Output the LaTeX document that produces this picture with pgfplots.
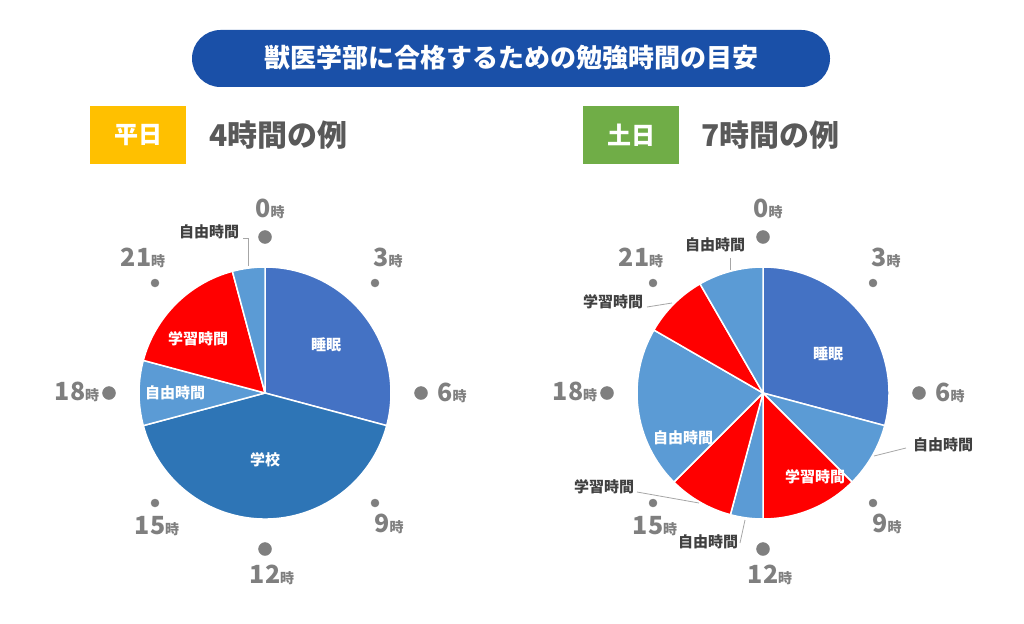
\documentclass[border=0pt]{standalone}
\usepackage{pgfplots}
\pgfplotsset{compat=1.18}
\usepackage{fontspec}
\setmainfont{Noto Sans CJK JP}
\definecolor{csleep}{HTML}{4472C4}
\definecolor{cschool}{HTML}{2E75B6}
\definecolor{cfree}{HTML}{5B9BD5}
\definecolor{cstudy}{HTML}{FF0000}
\definecolor{ctitle}{HTML}{1A50A8}
\definecolor{cyellow}{HTML}{FFC000}
\definecolor{cgreen}{HTML}{70AD47}
\definecolor{chead}{HTML}{595959}
\definecolor{cout}{HTML}{404040}
\definecolor{cclock}{HTML}{7F7F7F}
\definecolor{cleader}{HTML}{A6A6A6}
% slice: center x, center y, start hour, end hour, colour
\newcommand\slice[5]{%
  \fill[#5, draw=white, line width=1.5pt, line join=round] (axis cs:#1,#2) -- ++({90-15*#3}:126pt)
    arc[start angle={90-15*#3}, end angle={90-15*#4}, radius=126pt] -- cycle;}
\newcommand\clk[1]{{\fontsize{25}{25}\selectfont\bfseries #1}{\fontsize{14}{14}\selectfont\bfseries 時}}
\newcommand\lab{\fontsize{15}{15}\selectfont\bfseries}
\begin{document}
\begin{tikzpicture}
\begin{axis}[hide axis, scale only axis, width=1024pt, height=623pt,
  xmin=0, xmax=1024, ymin=0, ymax=623, y dir=reverse, clip=false]
\path (axis cs:0,0) rectangle (axis cs:1024,623);
% title
\fill[ctitle, rounded corners=28.5pt] (axis cs:192,30) rectangle (axis cs:830,87);
\node[white, font=\fontsize{26}{26}\selectfont\bfseries] at (axis cs:511,58) {獣医学部に合格するための勉強時間の目安};
% badges
\fill[cyellow] (axis cs:90,106) rectangle (axis cs:186,164);
\node[white, font=\fontsize{24}{24}\selectfont\bfseries] at (axis cs:138,135) {平日};
\node[chead, anchor=west, font=\fontsize{30}{30}\selectfont\bfseries] at (axis cs:206,135) {4時間の例};
\fill[cgreen] (axis cs:583,106) rectangle (axis cs:679,164);
\node[white, font=\fontsize{24}{24}\selectfont\bfseries] at (axis cs:631,135) {土日};
\node[chead, anchor=west, font=\fontsize{30}{30}\selectfont\bfseries] at (axis cs:698,135) {7時間の例};
% left pie (weekday): hours
\slice{265}{393}{0}{7}{csleep}
\slice{265}{393}{7}{17}{cschool}
\slice{265}{393}{17}{19}{cfree}
\slice{265}{393}{19}{23}{cstudy}
\slice{265}{393}{23}{24}{cfree}
% right pie (weekend): hours
\slice{763}{393}{0}{7}{csleep}
\slice{763}{393}{7}{9}{cfree}
\slice{763}{393}{9}{12}{cstudy}
\slice{763}{393}{12}{13}{cfree}
\slice{763}{393}{13}{15}{cstudy}
\slice{763}{393}{15}{20}{cfree}
\slice{763}{393}{20}{22}{cstudy}
\slice{763}{393}{22}{24}{cfree}
% clock dots
\addplot[only marks, mark=*, mark size=6.5pt, color=cclock, mark options={draw=none}]
  coordinates {(265,237) (421,393) (265,549) (109,393) (763,237) (919,393) (763,549) (607,393)};
\addplot[only marks, mark=*, mark size=4pt, color=cclock, mark options={draw=none}]
  coordinates {(375,283) (375,503) (155,503) (155,283) (873,283) (873,503) (653,503) (653,283)};
% clock labels
\begin{scope}[every node/.style={cclock}]
\node at (axis cs:270,209) {\clk{0}};
\node at (axis cs:388,258) {\clk{3}};
\node at (axis cs:452,393) {\clk{6}};
\node at (axis cs:389,524) {\clk{9}};
\node at (axis cs:272,575) {\clk{12}};
\node at (axis cs:157,526) {\clk{15}};
\node at (axis cs:77,392) {\clk{18}};
\node at (axis cs:143,258) {\clk{21}};
\node at (axis cs:768,209) {\clk{0}};
\node at (axis cs:886,258) {\clk{3}};
\node at (axis cs:950,393) {\clk{6}};
\node at (axis cs:887,524) {\clk{9}};
\node at (axis cs:770,575) {\clk{12}};
\node at (axis cs:655,526) {\clk{15}};
\node at (axis cs:575,392) {\clk{18}};
\node at (axis cs:641,258) {\clk{21}};
\end{scope}
% inner labels
\node[white, font=\lab] at (axis cs:326,345) {睡眠};
\node[white, font=\lab] at (axis cs:265,460) {学校};
\node[white, font=\lab] at (axis cs:175,393) {自由時間};
\node[white, font=\lab] at (axis cs:198,339) {学習時間};
\node[white, font=\lab] at (axis cs:828,354) {睡眠};
\node[white, font=\lab] at (axis cs:815,477) {学習時間};
\node[white, font=\lab] at (axis cs:683,438) {自由時間};
% outside labels with leaders
\node[cout, font=\lab] at (axis cs:209,232) {自由時間};
\draw[cleader, line width=0.8pt] (axis cs:243,238) -- (axis cs:248,238) -- (axis cs:248,266);
\node[cout, font=\lab] at (axis cs:715,245) {自由時間};
\draw[cleader, line width=0.8pt] (axis cs:730,258) -- (axis cs:730,270);
\node[cout, font=\lab] at (axis cs:613,302) {学習時間};
\draw[cleader, line width=0.8pt] (axis cs:647,307) -- (axis cs:672,303);
\node[cout, font=\lab] at (axis cs:943,445) {自由時間};
\draw[cleader, line width=0.8pt] (axis cs:906,448) -- (axis cs:874,456);
\node[cout, font=\lab] at (axis cs:604,487) {学習時間};
\draw[cleader, line width=0.8pt] (axis cs:637,492) -- (axis cs:699,503);
\node[cout, font=\lab] at (axis cs:708,542) {自由時間};
\draw[cleader, line width=0.8pt] (axis cs:740,543) -- (axis cs:745,520);
\end{axis}
\end{tikzpicture}
\end{document}
